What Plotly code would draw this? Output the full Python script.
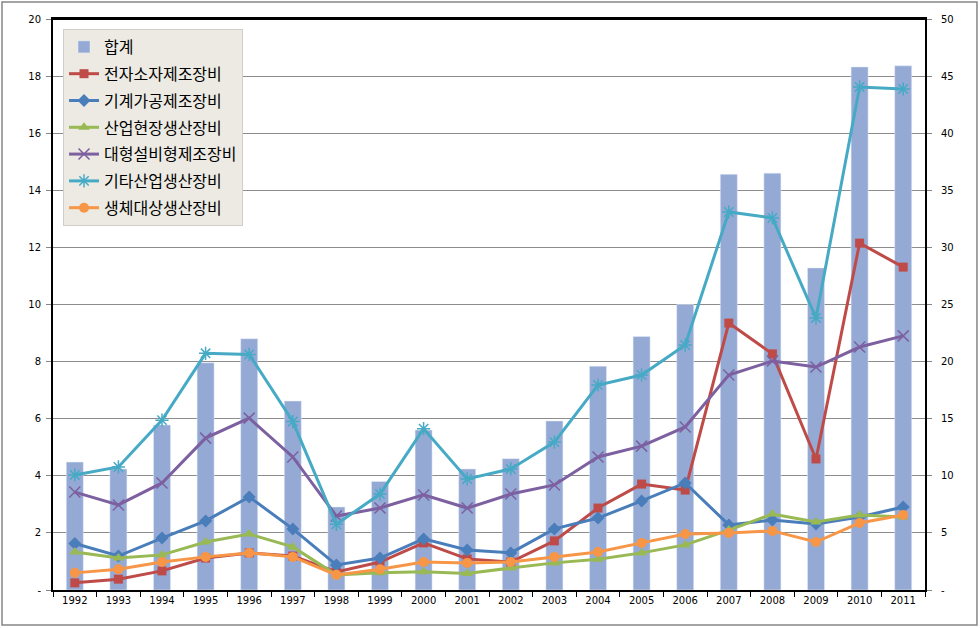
import plotly.graph_objects as go

years = [str(y) for y in range(1992, 2012)]

total = [11.2, 10.6, 14.45, 19.9, 22.0, 16.55, 7.27, 9.5, 14.0, 10.6,
         11.5, 14.8, 19.6, 22.2, 25.0, 36.4, 36.5, 28.2, 45.8, 45.9]

electronic = [0.25, 0.38, 0.67, 1.12, 1.30, 1.19, 0.63, 0.98, 1.65, 1.09,
              0.98, 1.72, 2.87, 3.71, 3.50, 9.35, 8.27, 4.59, 12.15, 11.31]
machining = [1.63, 1.19, 1.82, 2.42, 3.26, 2.14, 0.88, 1.12, 1.79, 1.40,
             1.30, 2.14, 2.52, 3.12, 3.75, 2.28, 2.45, 2.31, 2.56, 2.91]
field = [1.33, 1.12, 1.23, 1.68, 1.96, 1.51, 0.53, 0.60, 0.64, 0.58,
         0.77, 0.95, 1.08, 1.30, 1.58, 2.10, 2.66, 2.38, 2.63, 2.56]
large = [3.43, 2.98, 3.75, 5.32, 6.02, 4.66, 2.59, 2.87, 3.33, 2.87,
         3.36, 3.68, 4.66, 5.04, 5.71, 7.53, 8.02, 7.81, 8.51, 8.90]
other = [4.03, 4.31, 5.95, 8.29, 8.25, 5.90, 2.30, 3.36, 5.65, 3.89,
         4.24, 5.18, 7.18, 7.53, 8.58, 13.24, 13.03, 9.53, 17.62, 17.55]
bio = [0.60, 0.73, 0.98, 1.16, 1.30, 1.16, 0.53, 0.73, 0.98, 0.95,
       0.98, 1.16, 1.33, 1.65, 1.96, 2.00, 2.07, 1.68, 2.35, 2.63]

names = ["합계", "전자소자제조장비", "기계가공제조장비", "산업현장생산장비",
         "대형설비형제조장비", "기타산업생산장비", "생체대상생산장비"]

left_ticks = [0, 2, 4, 6, 8, 10, 12, 14, 16, 18, 20]
left_text = ["-"] + [str(v) for v in left_ticks[1:]]
right_ticks = [0, 5, 10, 15, 20, 25, 30, 35, 40, 45, 50]
right_text = ["-"] + [str(v) for v in right_ticks[1:]]

fig = go.Figure()
fig.add_trace(go.Bar(x=years, y=total, name=names[0], marker_color="#95A9D5",
                     width=0.39, yaxis="y", legendgroup="g0"))

series = [
    (electronic, names[1], "#BE4B48", "square", 9, 0),
    (machining, names[2], "#4A7EBB", "diamond", 10, 0),
    (field, names[3], "#98B954", "triangle-up", 10, 0),
    (large, names[4], "#7D60A0", "x-thin-open", 11, 1.5),
    (other, names[5], "#46AAC5", "asterisk-open", 11, 1.5),
    (bio, names[6], "#F79646", "circle", 10, 0),
]
for i, (vals, nm, col, sym, sz, lw) in enumerate(series):
    mk = dict(symbol=sym, size=sz, color=col)
    if lw:
        mk["line"] = dict(color=col, width=lw)
    fig.add_trace(go.Scatter(x=years, y=vals, name=nm, mode="lines+markers",
                             line=dict(color=col, width=3), marker=mk,
                             yaxis="y2", legendgroup="g%d" % (i + 1)))

tickfont = dict(family="DejaVu Sans, Verdana, sans-serif", size=10, color="#000000")

fig.update_layout(
    width=980, height=628,
    margin=dict(l=53, r=55, t=19, b=38),
    paper_bgcolor="white", plot_bgcolor="white",
    showlegend=True,
    legend=dict(x=0.0115, y=0.9825, xanchor="left", yanchor="top",
                bgcolor="#ECEAE2", bordercolor="#D0CEC6", borderwidth=1,
                font=dict(family="Noto Sans CJK KR", size=16, color="#000000"),
                traceorder="grouped", tracegroupgap=3, itemwidth=30),
    xaxis=dict(type="category", range=[-0.5, 19.5], tickson="boundaries",
               ticks="outside", ticklen=5, tickcolor="#000000",
               showline=True, linecolor="#000000", linewidth=2, mirror=True,
               showgrid=False, tickfont=tickfont),
    yaxis=dict(side="right", range=[0, 50], tickvals=right_ticks, ticktext=right_text,
               ticks="outside", ticklen=5, tickcolor="#868686",
               ticklabelstandoff=7,
               showline=True, linecolor="#000000", linewidth=2,
               showgrid=False, zeroline=False, tickfont=tickfont),
    yaxis2=dict(side="left", overlaying="y", range=[0, 20], tickvals=left_ticks,
                ticktext=left_text, ticks="outside", ticklen=5, tickcolor="#868686",
                ticklabelstandoff=3,
                showline=True, linecolor="#000000", linewidth=2,
                showgrid=True, gridcolor="#8C8C8C", gridwidth=1, zeroline=False,
                tickfont=tickfont),
)

fig.add_shape(type="line", xref="paper", yref="paper", x0=0, x1=1, y0=1, y1=1,
              line=dict(color="#000000", width=2))
fig.add_shape(type="rect", xref="paper", yref="paper",
              x0=-0.0585, x1=1.0596, y0=-0.0613, y1=1.0298,
              line=dict(color="#868686", width=1.5), layer="above")

fig.write_html("out.html", config={"displayModeBar": False},
               post_script="document.body.style.margin='0';")
